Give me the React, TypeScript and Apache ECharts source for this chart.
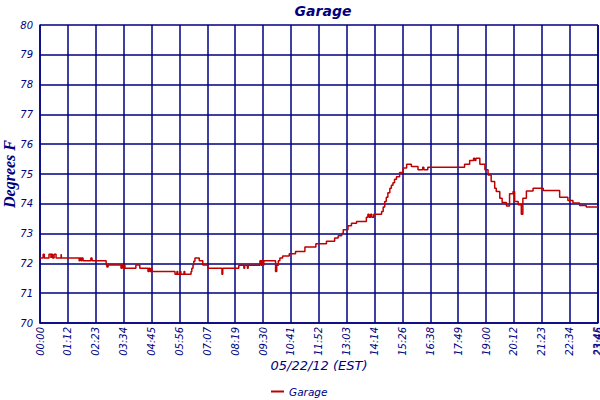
import { useEffect, useRef } from "react";
import * as echarts from "echarts";

// minutes after midnight, 05/22/12
const times = [
  0, 8, 11, 23, 28, 29, 32, 36, 41, 54, 55, 100, 102, 105, 107, 110, 130, 133,
  169, 171, 174, 207, 209, 212, 215, 217, 245, 255, 276, 278, 281, 284, 286,
  345, 350, 352, 358, 360, 368, 370, 386, 388, 391, 393, 396, 407, 416, 429,
  465, 467, 508, 521, 523, 530, 532, 562, 565, 567, 570, 572, 602, 605, 609,
  613, 620, 637, 653, 677, 705, 732, 753, 762, 771, 775, 787, 796, 809, 834,
  838, 841, 845, 848, 853, 873, 877, 881, 885, 889, 894, 898, 902, 906, 911,
  919, 928, 937, 949, 966, 978, 981, 991, 1085, 1098, 1108, 1111, 1114, 1124,
  1137, 1145, 1153, 1162, 1166, 1175, 1181, 1192, 1200, 1209, 1213, 1222, 1230,
  1234, 1243, 1260, 1286, 1328, 1349, 1362, 1379, 1396, 1426,
];

// degrees F
const temps = [
  72.18, 72.31, 72.18, 72.31, 72.18, 72.31, 72.18, 72.31, 72.18, 72.31, 72.18, 72.09, 72.18, 72.09, 72.18, 72.09, 72.18, 72.09,
  71.95, 71.88, 71.95, 71.84, 71.95, 71.84, 71.95, 71.84, 71.95, 71.84, 71.73, 71.84, 71.73, 71.84, 71.73,
  71.64, 71.73, 71.64, 71.73, 71.64, 71.73, 71.64, 71.73, 71.84, 71.95, 72.07, 72.18, 72.09, 71.95, 71.84,
  71.64, 71.84, 71.94, 71.84, 71.94, 71.84, 71.94, 72.09, 71.94, 72.09, 71.94, 72.09, 71.73, 71.94, 72.09,
  72.18, 72.25, 72.32, 72.4, 72.55, 72.66, 72.74, 72.85, 72.93, 73.0, 73.13, 73.26, 73.35, 73.41, 73.55,
  73.65, 73.55, 73.65, 73.55, 73.65, 73.74, 73.89, 74.08, 74.22, 74.37, 74.52, 74.62, 74.71, 74.82, 74.91,
  75.05, 75.2, 75.33, 75.25, 75.14, 75.23, 75.14, 75.23, 75.33, 75.45, 75.53, 75.45, 75.53, 75.33,
  75.14, 74.97, 74.75, 74.52, 74.41, 74.19, 74.04, 73.93, 74.34, 74.41, 74.08, 73.97, 73.65,
  74.19, 74.43, 74.52, 74.45, 74.22, 74.11, 74.03, 73.94, 73.89, 73.89,
];

const tickLabels = [
  "00:00", "01:12", "02:23", "03:34", "04:45", "05:56", "07:07", "08:19", "09:30", "10:41",
  "11:52", "13:03", "14:14", "15:26", "16:38", "17:49", "19:00", "20:12", "21:23", "22:34", "23:45",
];
const endLabel = "23:46";
const tickStep = 71.25;
const endMinute = 1426;

const NAVY = "#000080";
const SANS = "DejaVu Sans";

const xLabelStyle = {
  rotate: 90,
  margin: 4,
  color: NAVY,
  fontFamily: SANS,
  fontStyle: "italic",
  fontSize: 10,
};

export default function App() {
  const ref = useRef<HTMLDivElement | null>(null);

  useEffect(() => {
    if (!ref.current) return;
    const chart = echarts.init(ref.current, null, { renderer: "svg" });

    const lastTick = tickLabels.length - 1;

    chart.setOption({
      animation: false,
      backgroundColor: "#ffffff",
      title: {
        text: "Garage",
        left: 318,
        top: -1,
        textAlign: "center",
        textStyle: { color: NAVY, fontFamily: SANS, fontStyle: "italic", fontWeight: "bold", fontSize: 14 },
      },
      legend: {
        left: 266,
        top: 381,
        icon: "rect",
        itemWidth: 13,
        itemHeight: 2,
        itemGap: 4,
        textStyle: { color: NAVY, fontFamily: SANS, fontStyle: "italic", fontSize: 10.5 },
        data: ["Garage"],
      },
      grid: { left: 40, right: 2, top: 25, bottom: 77, containLabel: false, outerBoundsMode: "none" },
      xAxis: [
        {
          type: "value",
          min: 0,
          max: endMinute,
          interval: tickStep,
          name: "05/22/12 (EST)",
          nameLocation: "middle",
          nameGap: 36,
          nameMoveOverlap: false,
          nameTextStyle: { color: NAVY, fontFamily: SANS, fontStyle: "italic", fontSize: 13 },
          axisLine: { lineStyle: { color: NAVY, width: 1.5 } },
          axisTick: { show: false },
          splitLine: { show: true, lineStyle: { color: NAVY, width: 1.5 } },
          axisLabel: {
            ...xLabelStyle,
            showMaxLabel: true,
            showMinLabel: true,
            formatter: (v: number) => (v >= endMinute ? endLabel : tickLabels[Math.round(v / tickStep)] ?? ""),
          },
        },
        {
          // second axis on the same scale only to print the label that the end label overlaps
          type: "value",
          position: "bottom",
          min: 0,
          max: endMinute,
          interval: tickStep,
          axisLine: { show: false },
          axisTick: { show: false },
          splitLine: { show: false },
          axisLabel: {
            ...xLabelStyle,
            showMaxLabel: false,
            showMinLabel: false,
            formatter: (v: number) => (Math.round(v / tickStep) === lastTick && v < endMinute ? tickLabels[lastTick] : ""),
          },
        },
      ],
      yAxis: {
        type: "value",
        min: 70,
        max: 80,
        interval: 1,
        name: "Degrees F",
        nameLocation: "middle",
        nameGap: 23,
        nameMoveOverlap: false,
        nameTextStyle: {
          color: NAVY,
          fontFamily: "Liberation Serif",
          fontStyle: "italic",
          fontWeight: "bold",
          fontSize: 16,
        },
        axisLine: { show: true, lineStyle: { color: NAVY, width: 1.5 } },
        axisTick: { show: false },
        splitLine: { show: true, lineStyle: { color: NAVY, width: 1.5 } },
        axisLabel: { color: NAVY, fontFamily: SANS, fontStyle: "italic", fontSize: 10, margin: 7 },
      },
      series: [
        {
          name: "Garage",
          type: "line",
          step: "end",
          symbol: "none",
          color: "#c00000",
          lineStyle: { color: "#c00000", width: 1.5 },
          data: times.map((t, i) => [t, temps[i]]),
        },
      ],
    });

    return () => chart.dispose();
  }, []);

  return <div ref={ref} style={{ position: "fixed", left: 0, top: 0, width: 600, height: 400 }} />;
}
